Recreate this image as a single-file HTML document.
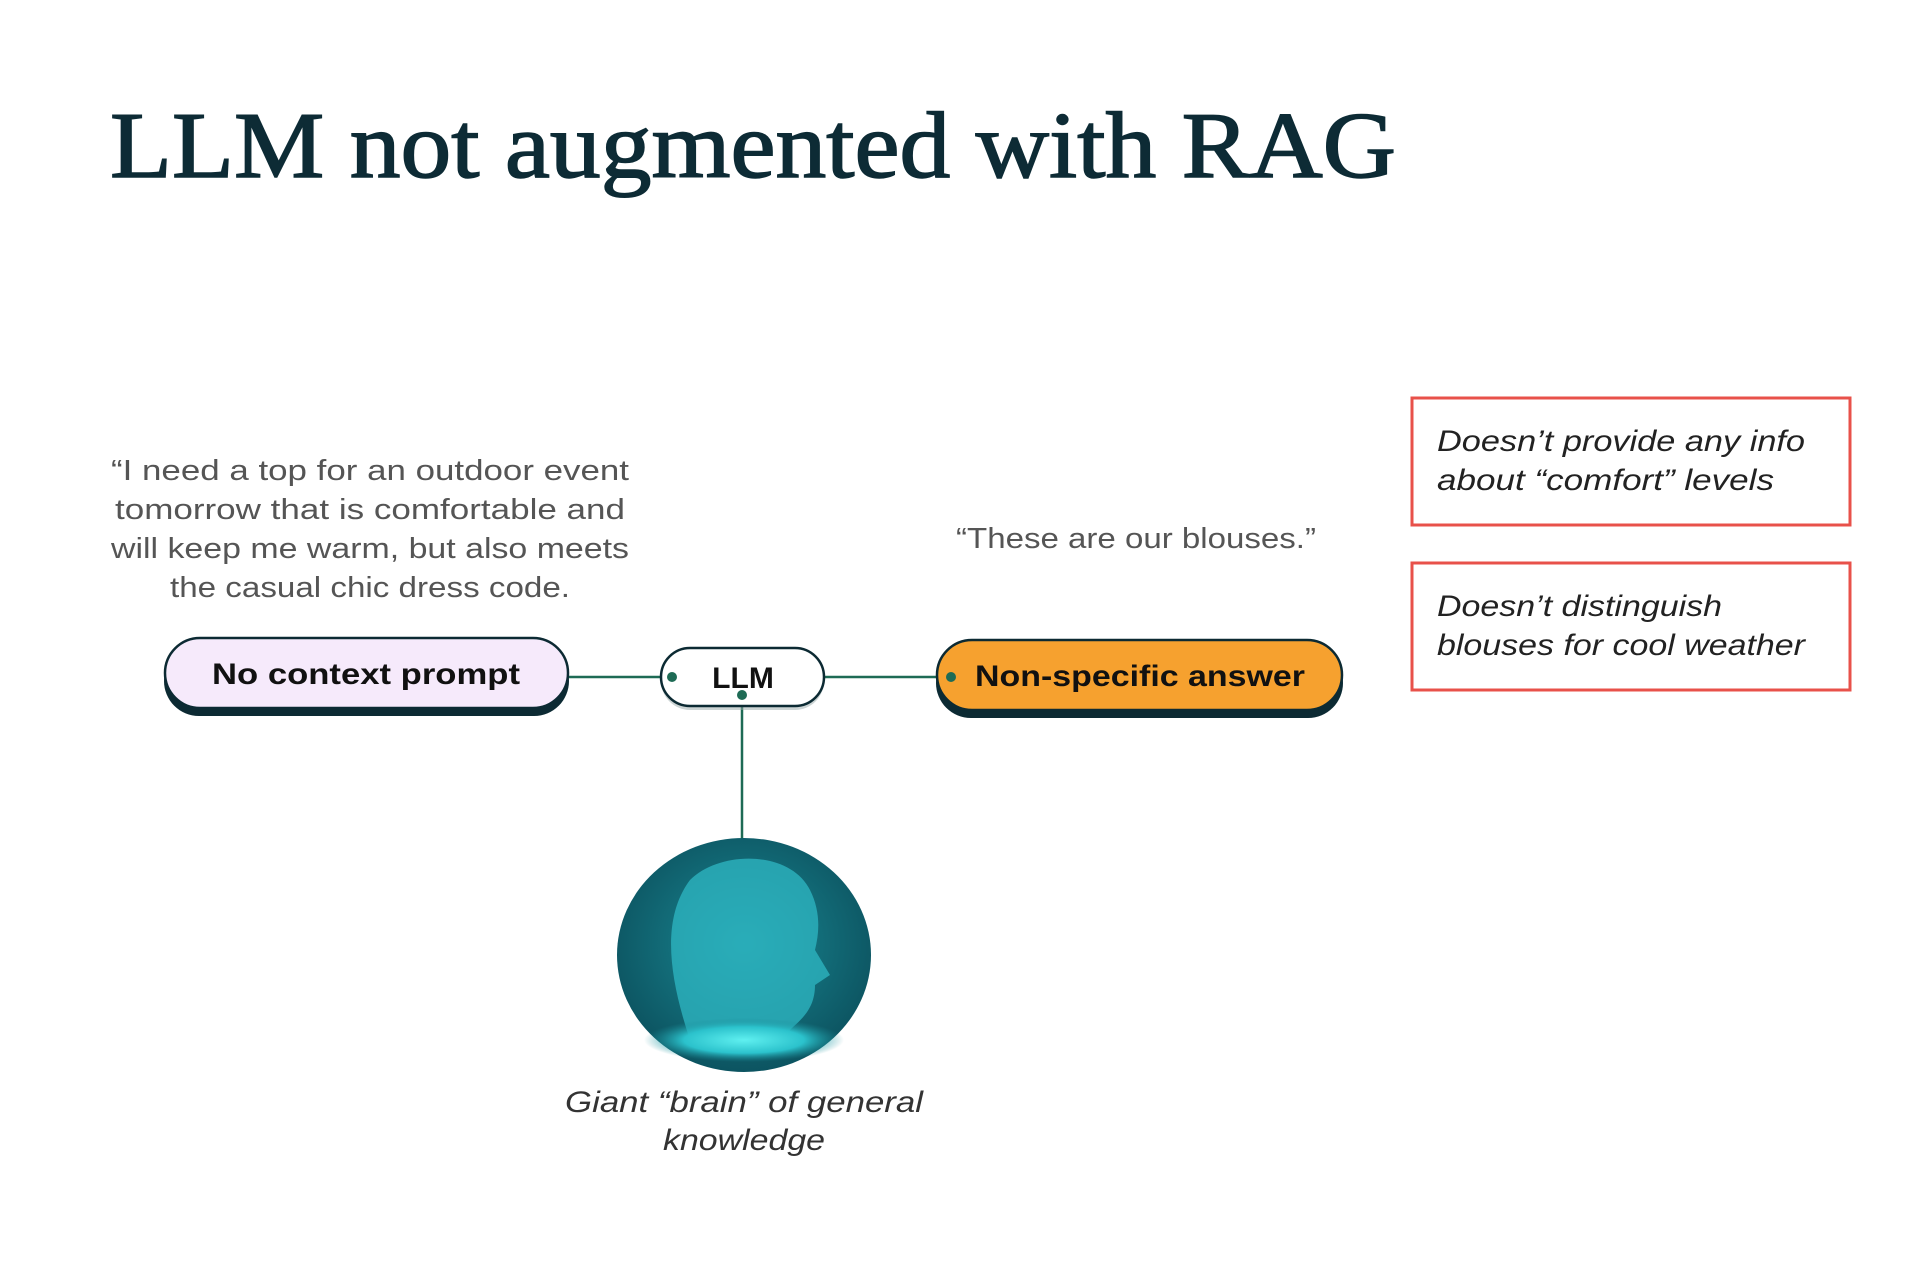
<!DOCTYPE html>
<html><head><meta charset="utf-8"><style>
html,body{margin:0;padding:0;background:#fff;}
svg{display:block;}
</style></head><body>
<svg width="1905" height="1263" viewBox="0 0 1905 1263" xmlns="http://www.w3.org/2000/svg">
<defs>
<radialGradient id="g" cx="50%" cy="45%" r="60%">
<stop offset="0" stop-color="#1a8a95"/><stop offset="1" stop-color="#0b4f5c"/>
</radialGradient>
<radialGradient id="h" cx="50%" cy="50%" r="50%">
<stop offset="0" stop-color="#5ff0f0"/><stop offset="0.6" stop-color="#2bc2cc"/><stop offset="1" stop-color="#1a8a95" stop-opacity="0"/>
</radialGradient>
</defs>
<text x="110" y="177" font-family="Liberation Serif, serif" font-size="94" fill="#0d2b35" stroke="#0d2b35" stroke-width="1.5" textLength="1286" lengthAdjust="spacingAndGlyphs">LLM not augmented with RAG</text>

<g font-family="Liberation Sans, sans-serif" font-size="29" fill="#555" text-anchor="middle">
<text x="370" y="480" textLength="518" lengthAdjust="spacingAndGlyphs">“I need a top for an outdoor event</text>
<text x="370" y="519" textLength="510" lengthAdjust="spacingAndGlyphs">tomorrow that is comfortable and</text>
<text x="370" y="558" textLength="518" lengthAdjust="spacingAndGlyphs">will keep me warm, but also meets</text>
<text x="370" y="597" textLength="400" lengthAdjust="spacingAndGlyphs">the casual chic dress code.</text>
<text x="1136" y="548" textLength="360" lengthAdjust="spacingAndGlyphs">“These are our blouses.”</text>
</g>

<line x1="569" y1="677" x2="672" y2="677" stroke="#1e6b55" stroke-width="2.5"/>
<line x1="824" y1="677" x2="951" y2="677" stroke="#1e6b55" stroke-width="2.5"/>
<line x1="742" y1="695" x2="742" y2="840" stroke="#1e6b55" stroke-width="2.5"/>

<rect x="164" y="646" width="405" height="70" rx="35" fill="#0c2a33"/>
<rect x="165" y="638" width="403" height="70" rx="35" fill="#f6eafb" stroke="#0c2a33" stroke-width="2.5"/>
<text x="366" y="684" font-family="Liberation Sans, sans-serif" font-weight="bold" font-size="30" fill="#111" text-anchor="middle" textLength="308" lengthAdjust="spacingAndGlyphs">No context prompt</text>

<rect x="661" y="652" width="163" height="58" rx="29" fill="#9aa" opacity="0.5"/>
<rect x="661" y="648" width="163" height="58" rx="29" fill="#fff" stroke="#0c2a33" stroke-width="2.5"/>
<text x="743" y="688" font-family="Liberation Sans, sans-serif" font-weight="bold" font-size="30" fill="#111" text-anchor="middle">LLM</text>
<circle cx="672" cy="677" r="5" fill="#1e6b55"/>
<circle cx="742" cy="695" r="5" fill="#1e6b55"/>

<rect x="936" y="648" width="407" height="70" rx="35" fill="#0c2a33"/>
<rect x="937" y="640" width="405" height="70" rx="35" fill="#f6a12f" stroke="#0c2a33" stroke-width="2.5"/>
<text x="1140" y="686" font-family="Liberation Sans, sans-serif" font-weight="bold" font-size="30" fill="#111" text-anchor="middle" textLength="330" lengthAdjust="spacingAndGlyphs">Non-specific answer</text>
<circle cx="951" cy="677" r="5" fill="#1e6b55"/>

<ellipse cx="744" cy="955" rx="127" ry="117" fill="url(#g)"/>
<path d="M690 1040 C670 980 660 920 690 880 C720 850 790 850 810 890 C820 910 820 930 815 950 L830 975 L815 985 C815 1010 800 1020 790 1030 L790 1045 Z" fill="#2fb8c4" opacity="0.75"/>
<ellipse cx="744" cy="1040" rx="100" ry="22" fill="url(#h)"/>
<g font-family="Liberation Sans, sans-serif" font-style="italic" font-size="30" fill="#333" text-anchor="middle">
<text x="744" y="1112" textLength="358" lengthAdjust="spacingAndGlyphs">Giant “brain” of general</text>
<text x="744" y="1150" textLength="162" lengthAdjust="spacingAndGlyphs">knowledge</text>
</g>

<rect x="1412" y="398" width="438" height="127" fill="#fff" stroke="#e8514a" stroke-width="3"/>
<rect x="1412" y="563" width="438" height="127" fill="#fff" stroke="#e8514a" stroke-width="3"/>
<g font-family="Liberation Sans, sans-serif" font-style="italic" font-size="30" fill="#222">
<text x="1437" y="451" textLength="368" lengthAdjust="spacingAndGlyphs">Doesn’t provide any info</text>
<text x="1437" y="490" textLength="337" lengthAdjust="spacingAndGlyphs">about “comfort” levels</text>
<text x="1437" y="616" textLength="285" lengthAdjust="spacingAndGlyphs">Doesn’t distinguish</text>
<text x="1437" y="655" textLength="368" lengthAdjust="spacingAndGlyphs">blouses for cool weather</text>
</g>
</svg>
</body></html>
